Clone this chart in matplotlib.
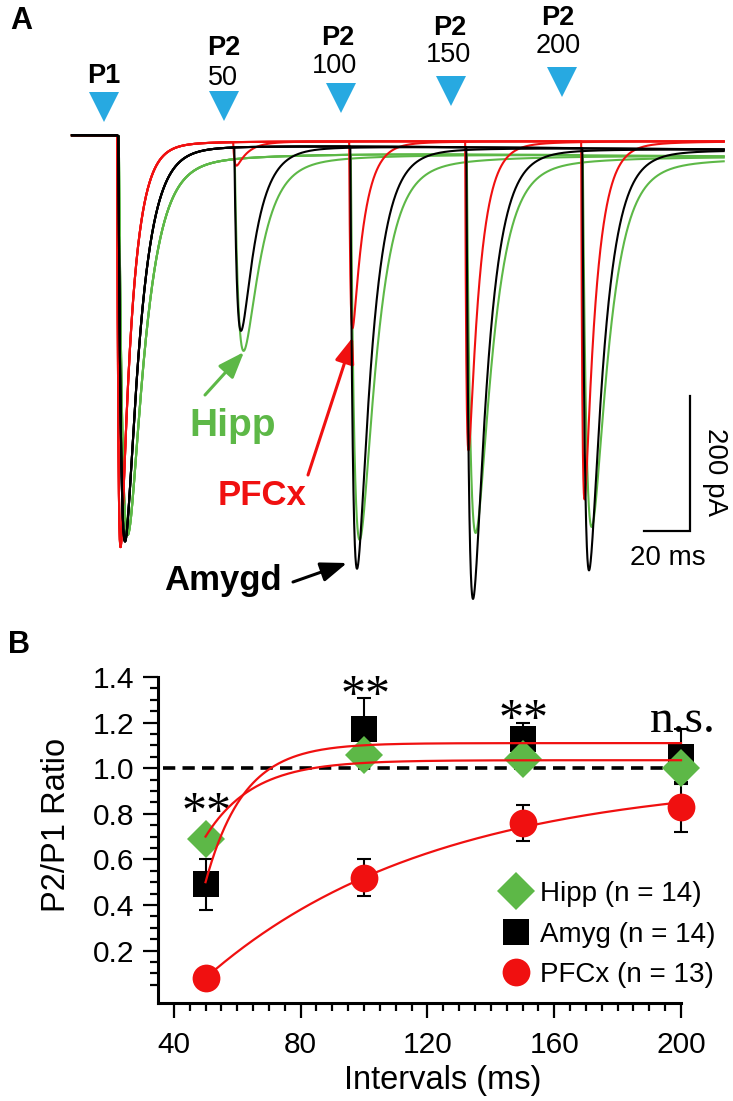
import numpy as np
import matplotlib
matplotlib.use('Agg')
import matplotlib.pyplot as plt
from matplotlib.lines import Line2D
from matplotlib.ticker import FixedLocator

plt.rcParams['font.family'] = ['Liberation Sans', 'DejaVu Sans']

W, H = 733, 1101
GREEN = '#5DB847'
RED = '#F01010'
BLUE = '#27A9E1'

# ---------------- panel A : example sweeps (ms, pA) ----------------
intervals = [50, 100, 150, 200]
trace_names = ['Hipp', 'PFCx', 'Amygd']
trace_colors = [GREEN, RED, 'black']
p1_amp = [595, 612, 603]
p2_amp = [[290, 580, 570, 560],    # Hipp
          [35, 278, 460, 533],     # PFCx
          [274, 630, 674, 630]]    # Amygd
latency = [1.2, 0.5, 1.0]
tau_rise = [2.2, 0.6, 1.5]
tau_decay = [7.2, 5.0, 6.5]
slow_frac = [0.06, 0.03, 0.03]
tau_slow = [40, 20, 30]
base_pre = [7, 7, 7]
base_post = [-16, -2, -6]
drift = [-0.03, 0.0, -0.03]
t_start, t_end = -19, 262

# ---------------- panel B : paired pulse ratio ----------------
ivals = [50, 100, 150, 200]
hipp = [0.69, 1.06, 1.04, 1.00]
hipp_err = [0.03, 0.03, 0.03, 0.03]
amyg = [0.49, 1.17, 1.13, 1.05]
amyg_err = [0.11, 0.14, 0.07, 0.12]
pfcx = [0.08, 0.52, 0.76, 0.83]
pfcx_err = [0.03, 0.08, 0.08, 0.11]
# exponential fits: plateau - amp*exp(-(x-50)/tau)
fit_plateau = [1.035, 1.11, 0.96]
fit_amp = [0.335, 0.61, 0.88]
fit_tau = [15, 12, 72]
signif = ['**', '**', '**', 'n.s.']
legend_labels = ['Hipp (n = 14)', 'Amyg (n = 14)', 'PFCx (n = 13)']


def fig_xy(x, y):
    return (x / W, 1 - y / H)


def ptxt(x, y, s, size, **kw):
    # y = visual centre of capitals, in pixels from top
    yb = y + 0.358 * size / 0.72
    fig.text(x / W, 1 - yb / H, s, fontsize=size, ha='center', va='baseline', **kw)


def epsc(t, t0, amp, lat, tr, td, fs, ts):
    s = np.clip(t - t0 - lat, 0, None)
    tp = tr * td / (td - tr) * np.log(td / tr)
    fast = (np.exp(-s / td) - np.exp(-s / tr)) / (np.exp(-tp / td) - np.exp(-tp / tr))
    slow = np.exp(-s / ts) - np.exp(-s / tr)
    return -amp * ((1 - fs) * fast + fs * slow)


fig = plt.figure(figsize=(W / 100, H / 100), dpi=100)

axA = fig.add_axes([0, 1 - 620 / H, 1, 620 / H])
axA.set_xlim((0 - 116) / 2.32, (W - 116) / 2.32)
axA.set_ylim((140 - 620) / 0.675, 140 / 0.675)
axA.axis('off')

t = np.arange(t_start, t_end, 0.05)
for c in range(3):
    for k, iv in enumerate(intervals):
        base = np.where(t < 0, base_pre[c],
                        base_post[c] + (base_pre[c] - base_post[c]) * np.exp(-np.clip(t, 0, None) / 15) + drift[c] * t)
        y = base + epsc(t, 0, p1_amp[c], latency[c], tau_rise[c], tau_decay[c], slow_frac[c], tau_slow[c])
        y = y + epsc(t, iv, p2_amp[c][k], latency[c], tau_rise[c], tau_decay[c], slow_frac[c], tau_slow[c])
        axA.plot(t, y, color=trace_colors[c], lw=1.5, zorder=2 + c)

# stimulus markers and labels
tri_px = [(104, 107), (224, 106), (341, 98), (451, 91), (562, 82)]
for (x, y) in tri_px:
    fig.add_artist(Line2D([x / W], [1 - y / H], marker='v', ms=21, color=BLUE, mew=0,
                          transform=fig.transFigure))
ptxt(104, 73, 'P1', 19.5, fontweight='bold')
p2_lab = [(224, 45, 223, 75), (338, 35, 334, 63), (450, 25, 449, 52), (558, 15, 558, 43)]
for (x1, y1, x2, y2), iv in zip(p2_lab, intervals):
    ptxt(x1, y1, 'P2', 19.5, fontweight='bold')
    ptxt(x2, y2, str(iv), 19.5)

ptxt(21, 18, 'A', 22, fontweight='bold')
ptxt(19, 642, 'B', 22, fontweight='bold')

# arrows with region names
arrows = [('Hipp', GREEN, 28, (233, 422), (205, 395), (244, 352)),
          ('PFCx', RED, 25, (262, 493), (308, 475), (353, 337)),
          ('Amygd', 'black', 25, (223, 578), (293, 582), (347, 563))]
for name, col, fs, tc, tail, tip in arrows:
    ptxt(tc[0], tc[1], name, fs, fontweight='bold', color=col)
    axA.annotate('', xy=fig_xy(*tip), xytext=fig_xy(*tail), xycoords='figure fraction',
                 textcoords='figure fraction',
                 arrowprops=dict(arrowstyle='-|>,head_length=0.8,head_width=0.3', color=col,
                                 lw=2.2, shrinkA=0, shrinkB=0, mutation_scale=20))

# scale bar 20 ms / 200 pA
sb_t = (644 - 116) / 2.32
sb_y = (140 - 531) / 0.675
axA.plot([sb_t, sb_t + 20, sb_t + 20], [sb_y, sb_y, sb_y + 200], color='black', lw=1.6,
         solid_joinstyle='miter')
ptxt(668, 555, '20 ms', 20)
fig.text(715 / W, 1 - 472 / H, '200 pA', fontsize=20, rotation=270, ha='center', va='center')

# ---------------- panel B ----------------
axB = fig.add_axes([158 / W, 1 - 1003 / H, (681 - 158) / W, (1003 - 677) / H])
axB.set_xlim(35, 200)
axB.set_ylim(-0.03, 1.4)
for s in ['top', 'right']:
    axB.spines[s].set_visible(False)
for s in ['left', 'bottom']:
    axB.spines[s].set_linewidth(2.2)

axB.hlines(1.0, 36.5, 200, colors='black', lw=2.6, linestyles=(0, (3.4, 2.0)), zorder=1)

for vals, errs in [(amyg, amyg_err), (pfcx, pfcx_err), (hipp, hipp_err)]:
    axB.errorbar(ivals, vals, yerr=errs, fmt='none', ecolor='black', elinewidth=1.5,
                 capsize=4.7, capthick=1.5, zorder=2, clip_on=False)

axB.plot(ivals, amyg, 's', ms=19, color='black', mew=0, zorder=3, clip_on=False)
axB.plot(ivals, hipp, 'D', ms=19, color=GREEN, mew=0, zorder=4, clip_on=False)
axB.plot(ivals, pfcx, 'o', ms=20, color=RED, mew=0, zorder=4, clip_on=False)

xf = np.linspace(50, 200, 300)
for p, a, tau in zip(fit_plateau, fit_amp, fit_tau):
    axB.plot(xf, p - a * np.exp(-(xf - 50) / tau), color=RED, lw=1.6, zorder=5, clip_on=False)

star_y = [0.745, 1.26, 1.155]
for x, yb, s in zip(ivals[:3], star_y, signif[:3]):
    axB.text(x + 0.4, yb, s, fontsize=36, ha='center', va='baseline',
             family=['Liberation Serif', 'DejaVu Serif'])
axB.text(200.6, 1.16, signif[3], fontsize=34, ha='center', va='baseline',
         family=['Liberation Serif', 'DejaVu Serif'])

axB.xaxis.set_major_locator(FixedLocator([40, 80, 120, 160, 200]))
axB.xaxis.set_minor_locator(FixedLocator(np.arange(40, 201, 5)))
axB.yaxis.set_major_locator(FixedLocator([0.2, 0.4, 0.6, 0.8, 1.0, 1.2, 1.4]))
axB.yaxis.set_minor_locator(FixedLocator(np.arange(0.05, 1.41, 0.05)))
axB.set_yticklabels(['%.1f' % v for v in [0.2, 0.4, 0.6, 0.8, 1.0, 1.2, 1.4]])
axB.tick_params(which='major', direction='out', length=11, width=1.6, labelsize=21.5, pad=6)
axB.tick_params(axis='x', which='major', pad=9)
axB.tick_params(which='minor', direction='out', length=5.8, width=1.6)

ptxt(443, 1077, 'Intervals (ms)', 23.5)
fig.text(57 / W, 1 - 825 / H, 'P2/P1 Ratio', fontsize=23.5, rotation=90, ha='center', va='center')

handles = [Line2D([], [], marker='D', ls='none', ms=19, color=GREEN, mew=0),
           Line2D([], [], marker='s', ls='none', ms=19, color='black', mew=0),
           Line2D([], [], marker='o', ls='none', ms=20, color=RED, mew=0)]
axB.legend(handles, legend_labels, loc='lower right', bbox_to_anchor=(715 / W, 1 - 988 / H),
           bbox_transform=fig.transFigure, frameon=False, fontsize=20, handlelength=1.0,
           handletextpad=0.35, labelspacing=0.52, borderpad=0, borderaxespad=0)

fig.savefig('out.png', dpi=100)
